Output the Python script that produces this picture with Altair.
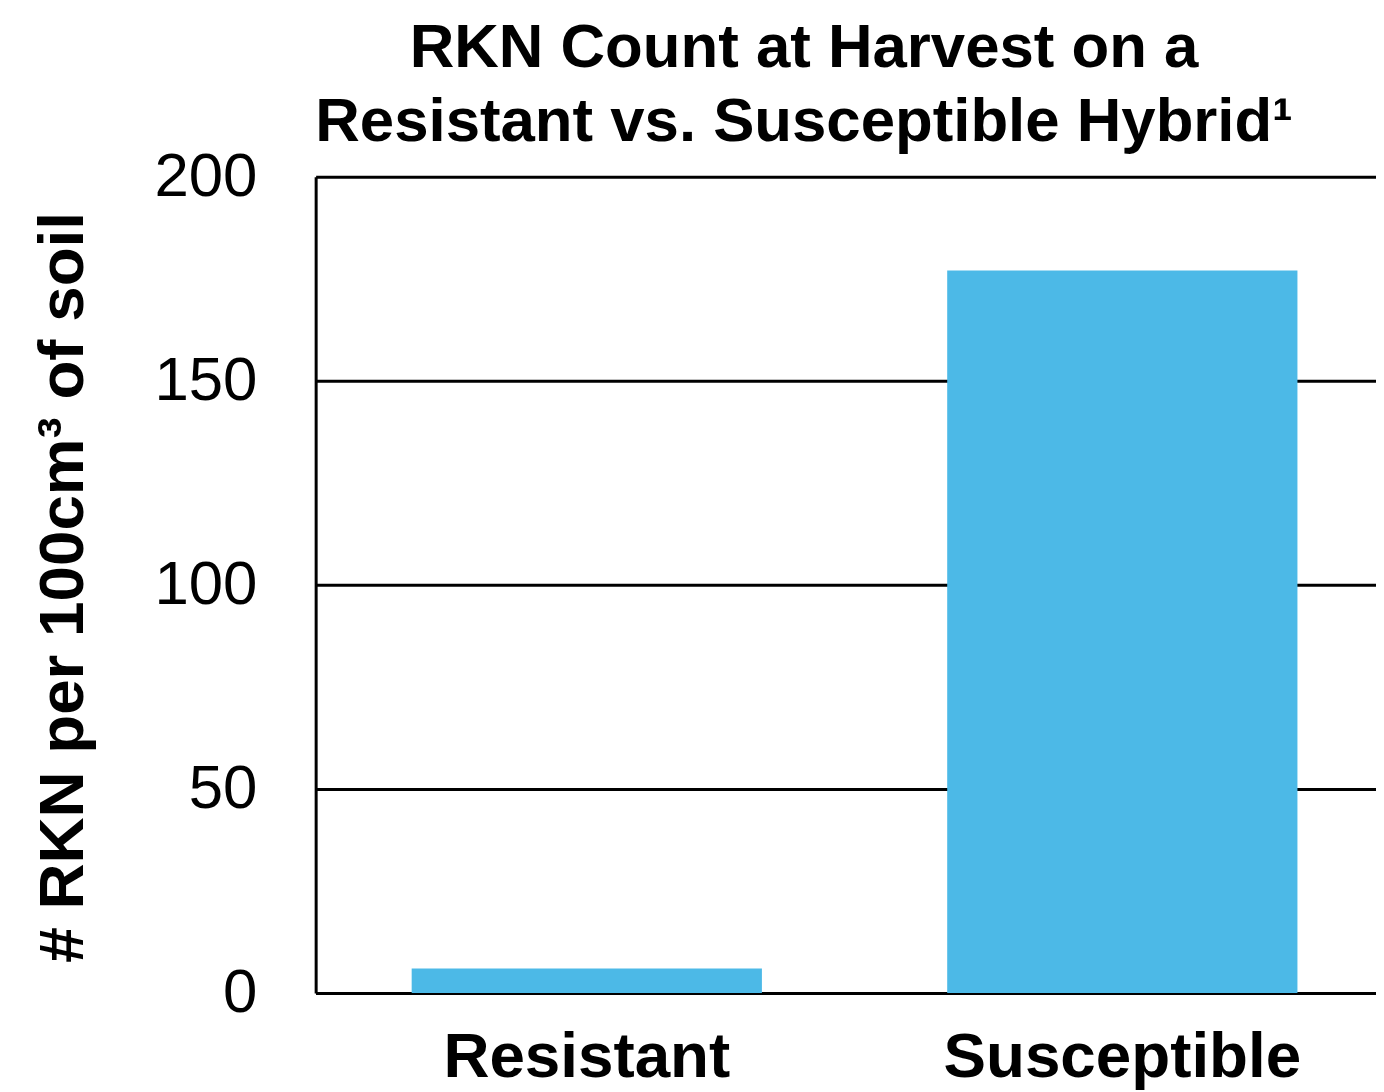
import altair as alt
import pandas as pd

categories = ["Resistant", "Susceptible"]
counts = [6, 177]
y_ticks = [0, 50, 100, 150, 200]

df = pd.DataFrame({"Hybrid": categories, "Count": counts})

FONT = "Liberation Sans"

chart = alt.Chart(df).mark_bar(color="#4cb9e7").encode(
    x=alt.X(
        "Hybrid:N",
        sort=categories,
        scale=alt.Scale(paddingInner=0.346, paddingOuter=0.163, align=0.55),
        axis=alt.Axis(
            title=None,
            labelAngle=0,
            labelFont=FONT,
            labelFontSize=64,
            labelFontWeight="bold",
            labelColor="#000",
            labelBaseline="alphabetic",
            labelPadding=84,
            labelLimit=0,
            ticks=False,
            tickSize=0,
            domainColor="#000",
            domainWidth=3,
            grid=False,
        ),
    ),
    y=alt.Y(
        "Count:Q",
        scale=alt.Scale(domain=[0, 200], nice=False),
        axis=alt.Axis(
            title="# RKN per 100cm³ of soil",
            values=y_ticks,
            titleFont=FONT,
            titleFontSize=64,
            titleFontWeight="bold",
            titleColor="#000",
            titleAngle=-90,
            titleAlign="center",
            titleBaseline="alphabetic",
            titleX=-234,
            titleY=412,
            labelFont=FONT,
            labelFontSize=62,
            labelColor="#000",
            labelPadding=59,
            ticks=False,
            tickSize=0,
            domainColor="#000",
            domainWidth=3,
            grid=True,
            gridColor="#000",
            gridWidth=3,
            gridOpacity=1,
        ),
    ),
).properties(
    width=1065,
    height=820,
    title=alt.TitleParams(
        text=["RKN Count at Harvest on a", "Resistant vs. Susceptible Hybrid¹"],
        font=FONT,
        fontSize=62,
        fontWeight="bold",
        color="#000",
        lineHeight=74,
        anchor="middle",
        frame="group",
        baseline="bottom",
        dx=-42,
        dy=88,
        offset=18,
    ),
    autosize=alt.AutoSizeParams(type="none"),
    padding={"left": 309, "top": 167, "right": 0, "bottom": 100},
).configure_view(stroke=None).configure(background="white")

chart.save("out.html", embed_options={"renderer": "svg", "actions": False})
